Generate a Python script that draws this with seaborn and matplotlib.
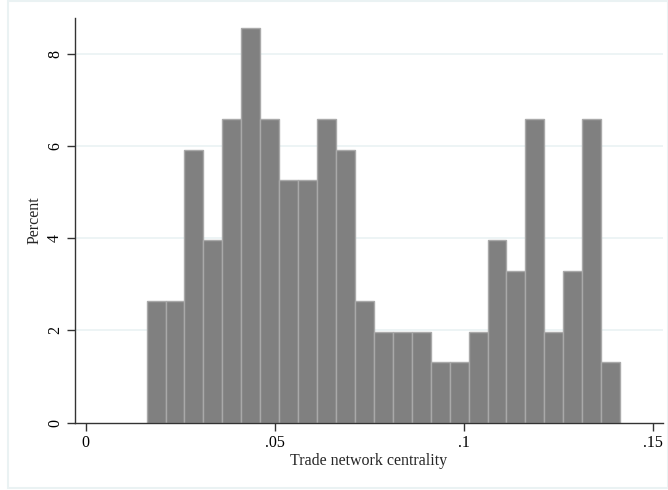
import matplotlib
matplotlib.use("Agg")
import matplotlib.pyplot as plt
import seaborn as sns
import numpy as np
import pandas as pd
from matplotlib.patches import Rectangle

# Data: histogram bins (Stata-style), values in percent
bin_start = 0.0161
bin_width = 0.00501
percent = [2.63, 2.63, 5.92, 3.95, 6.58, 8.55, 6.58, 5.26, 5.26, 6.58,
           5.92, 2.63, 1.97, 1.97, 1.97, 1.32, 1.32, 1.97, 3.95, 3.29,
           6.58, 1.97, 3.29, 6.58, 1.32]
x_ticks = [0, 0.05, 0.1, 0.15]
x_tick_labels = ["0", ".05", ".1", ".15"]
y_ticks = [0, 2, 4, 6, 8]
y_tick_labels = ["0", "2", "4", "6", "8"]

n = len(percent)
edges = bin_start + bin_width * np.arange(n + 1)
centers = (edges[:-1] + edges[1:]) / 2
df = pd.DataFrame({"centrality": centers, "percent": percent})

sns.set_theme(style="white")
plt.rcParams["font.family"] = ["Liberation Serif", "DejaVu Serif"]

fig = plt.figure(figsize=(6.68, 4.9), dpi=100)
ax = fig.add_axes([75 / 668, 1 - 422.7 / 490, (663 - 75) / 668, (422.7 - 17.7) / 490])

grid_c = "#eaf2f3"
for yv in y_ticks[1:]:
    ax.axhline(yv, color=grid_c, lw=1.2, zorder=0)

sns.histplot(data=df, x="centrality", weights="percent", bins=n,
             binrange=(float(edges[0]), float(edges[-1])),
             stat="count", color="#808080", alpha=1.0,
             edgecolor="#a9a9a9", linewidth=1.0, ax=ax, zorder=2)

ax.set_xlim(-0.00283, 0.1527)
ax.set_ylim(0, 8.78)
ax.set_xticks(x_ticks)
ax.set_xticklabels(x_tick_labels, fontsize=11.5)
ax.set_yticks(y_ticks)
ax.set_yticklabels(y_tick_labels, fontsize=11.5, rotation=90, va="center")
ax.set_xlabel("Trade network centrality", fontsize=11.5, labelpad=2)
ax.set_ylabel("Percent", fontsize=11.5, labelpad=3)

for s in ["top", "right"]:
    ax.spines[s].set_visible(False)
for s in ["left", "bottom"]:
    ax.spines[s].set_color("#333333")
    ax.spines[s].set_linewidth(1.0)
ax.tick_params(axis="both", direction="out", length=5.5, width=1.0,
               color="#333333", colors="black", bottom=True, left=True, pad=3)
ax.grid(False)

fig.patches.append(Rectangle((8 / 668, 2 / 490), 1 - 8 / 668, 1 - 3 / 490,
                             transform=fig.transFigure, fill=False,
                             edgecolor=grid_c, lw=1.5, zorder=0))

fig.savefig("out.png", dpi=100, facecolor="white")
